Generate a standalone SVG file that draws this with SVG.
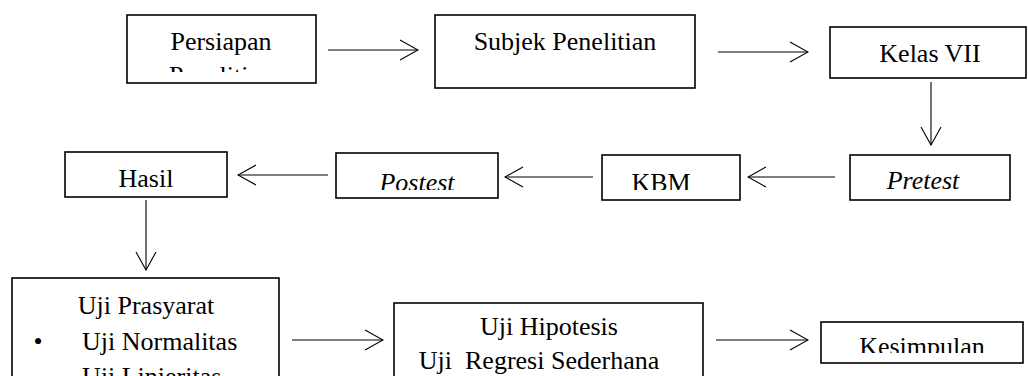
<svg xmlns="http://www.w3.org/2000/svg" width="1028" height="376" viewBox="0 0 1028 376">
<style>
.box{fill:#fff;stroke:#000;stroke-width:1.6}
.t{font-family:'Liberation Serif','DejaVu Serif',serif;font-size:26px;fill:#000;text-anchor:middle}
.i{font-style:italic}
.l{text-anchor:start}
.c{fill:none;stroke:#000;stroke-width:1.1}
</style>
<defs>
<marker id="ah" viewBox="0 0 20 22" refX="19" refY="11" markerWidth="20" markerHeight="22" markerUnits="userSpaceOnUse" orient="auto">
<path d="M1,1 L19,11 L1,21" fill="none" stroke="#000" stroke-width="1.1"/>
</marker>
<clipPath id="cp1"><rect x="128" y="16" width="187" height="56"/></clipPath>
<clipPath id="cp2"><rect x="337" y="154" width="160" height="36"/></clipPath>
<clipPath id="cp3"><rect x="603" y="156" width="136" height="34"/></clipPath>
<clipPath id="cp4"><rect x="822" y="323" width="200" height="30"/></clipPath>
</defs>
<rect width="1028" height="376" fill="#fff"/>
<g id="connectors">
<line class="c" x1="328" y1="50" x2="418" y2="50" marker-end="url(#ah)"/>
<line class="c" x1="718" y1="52" x2="808" y2="52" marker-end="url(#ah)"/>
<line class="c" x1="931" y1="82" x2="931" y2="145" marker-end="url(#ah)"/>
<line class="c" x1="835" y1="177" x2="748" y2="177" marker-end="url(#ah)"/>
<line class="c" x1="593" y1="177" x2="505" y2="177" marker-end="url(#ah)"/>
<line class="c" x1="328" y1="175" x2="238" y2="175" marker-end="url(#ah)"/>
<line class="c" x1="146" y1="200" x2="146" y2="270" marker-end="url(#ah)"/>
<line class="c" x1="292" y1="340" x2="383" y2="340" marker-end="url(#ah)"/>
<line class="c" x1="716" y1="340" x2="808" y2="340" marker-end="url(#ah)"/>
</g>
<g id="persiapan">
<rect class="box" x="127" y="15" width="189" height="68"/>
<g clip-path="url(#cp1)">
<text class="t" font-family="Liberation Serif" x="221" y="50">Persiapan</text>
<text class="t" font-family="Liberation Serif" x="221" y="84">Penelitian</text>
</g>
</g>
<g id="subjek">
<rect class="box" x="435" y="15" width="260" height="73"/>
<text class="t" font-family="Liberation Serif" x="565" y="50">Subjek Penelitian</text>
</g>
<g id="kelas">
<rect class="box" x="830" y="27" width="196" height="51"/>
<text class="t" font-family="Liberation Serif" x="930" y="62">Kelas VII</text>
</g>
<g id="pretest">
<rect class="box" x="850" y="155" width="160" height="45"/>
<text class="t i" font-family="Liberation Serif" x="923" y="189">Pretest</text>
</g>
<g id="kbm">
<rect class="box" x="602" y="155" width="138" height="45"/>
<g clip-path="url(#cp3)"><text class="t" font-family="Liberation Serif" x="661" y="191">KBM</text></g>
</g>
<g id="postest">
<rect class="box" x="336" y="153" width="162" height="45"/>
<g clip-path="url(#cp2)"><text class="t i" font-family="Liberation Serif" x="417" y="191">Postest</text></g>
</g>
<g id="hasil">
<rect class="box" x="65" y="152" width="162" height="45"/>
<text class="t" font-family="Liberation Serif" x="146" y="187">Hasil</text>
</g>
<g id="prasyarat">
<rect class="box" x="12" y="278" width="267" height="120"/>
<text class="t" font-family="Liberation Serif" x="146" y="314">Uji Prasyarat</text>
<text class="t" font-family="Liberation Serif" x="38" y="350">•</text>
<text class="t l" font-family="Liberation Serif" x="82" y="350">Uji Normalitas</text>
<text class="t l" font-family="Liberation Serif" x="82" y="385">Uji Linieritas</text>
</g>
<g id="hipotesis">
<rect class="box" x="394" y="303" width="309" height="95"/>
<text class="t" font-family="Liberation Serif" x="549" y="335">Uji Hipotesis</text>
<text class="t" font-family="Liberation Serif" x="539" y="369" xml:space="preserve">Uji  Regresi Sederhana</text>
</g>
<g id="kesimpulan">
<rect class="box" x="821" y="322" width="202" height="41"/>
<g clip-path="url(#cp4)"><text class="t" font-family="Liberation Serif" x="922" y="355">Kesimpulan</text></g>
</g>
</svg>
